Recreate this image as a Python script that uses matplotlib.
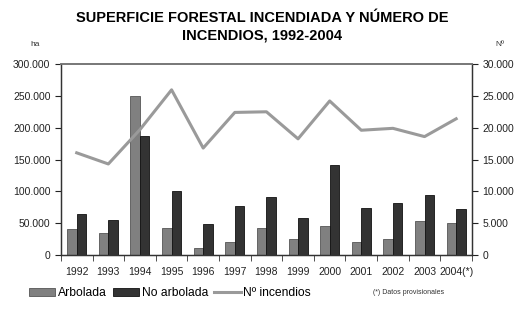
import numpy as np
import matplotlib
matplotlib.use('Agg')
import matplotlib.pyplot as plt
from matplotlib.ticker import FuncFormatter

plt.rcParams['font.family'] = ['Liberation Sans', 'DejaVu Sans']

years = ['1992', '1993', '1994', '1995', '1996', '1997', '1998',
         '1999', '2000', '2001', '2002', '2003', '2004(*)']
arbolada = [40400, 34500, 250500, 42500, 11000, 21000, 43000,
            24600, 46100, 19900, 25200, 54000, 50900]
no_arbolada = [65000, 55600, 187000, 101200, 49300, 77100, 91200,
               58200, 142100, 73400, 81800, 94900, 72400]
incendios = [16050, 14300, 19700, 25950, 16800, 22400, 22500,
             18250, 24200, 19600, 19900, 18600, 21400]

LIGHT = '#808080'
DARK = '#333333'
LINE = '#9a9a9a'


def dot_thousands(value, _):
    if value == 0:
        return '0'
    return f'{value:,.0f}'.replace(',', '.')


fig = plt.figure(figsize=(5.25, 3.14), dpi=100)
ax = fig.add_axes([0.116, 0.188, 0.783, 0.608])
ax2 = ax.twinx()

x = np.arange(len(years))
w = 0.3
b1 = ax.bar(x - w / 2, arbolada, w, color=LIGHT, edgecolor='#555555', linewidth=0.6, label='Arbolada')
b2 = ax.bar(x + w / 2, no_arbolada, w, color=DARK, edgecolor='#111111', linewidth=0.6, label='No arbolada')
ln, = ax2.plot(x, incendios, color=LINE, linewidth=2.2, label='Nº incendios')

ax.set_xlim(-0.5, len(years) - 0.5)
ax.set_ylim(0, 300000)
ax2.set_ylim(0, 30000)
ax.set_yticks(np.arange(0, 300001, 50000))
ax2.set_yticks(np.arange(0, 30001, 5000))
ax.yaxis.set_major_formatter(FuncFormatter(dot_thousands))
ax2.yaxis.set_major_formatter(FuncFormatter(dot_thousands))

# category labels centred, tick marks between categories
ax.set_xticks(x)
ax.set_xticklabels(years)
ax.set_xticks(np.arange(-0.5, len(years), 1), minor=True)
ax.tick_params(axis='x', which='major', length=0, labelsize=7.5, pad=9, colors='#222222')
ax.tick_params(axis='x', which='minor', length=4, direction='out', color='#333333')
ax.tick_params(axis='y', labelsize=7.5, length=4, direction='out', colors='#222222')
ax2.tick_params(axis='y', labelsize=7.5, length=4, direction='out', colors='#222222')

for a in (ax, ax2):
    a.spines['top'].set_color('#777777')
    a.spines['top'].set_linewidth(1.2)
    for s in ('left', 'right', 'bottom'):
        a.spines[s].set_color('#333333')
        a.spines[s].set_linewidth(0.9)

fig.text(0.5, 0.915, 'SUPERFICIE FORESTAL INCENDIADA Y NÚMERO DE\nINCENDIOS, 1992-2004',
         ha='center', va='center', fontsize=10.5, fontweight='bold', linespacing=1.3)
fig.text(0.067, 0.858, 'ha', ha='center', va='center', fontsize=6, color='#333333')
fig.text(0.953, 0.858, 'Nº', ha='center', va='center', fontsize=6, color='#333333')

fig.legend(handles=[b1, b2, ln], loc='center left', bbox_to_anchor=(0.055, 0.067),
           ncol=3, frameon=False, fontsize=8.7, handlelength=2.2, handleheight=0.6,
           handletextpad=0.2, columnspacing=0.5, borderpad=0, borderaxespad=0)
fig.text(0.71, 0.067, '(*) Datos provisionales', ha='left', va='center', fontsize=5, color='#333333')

fig.savefig('out.png', dpi=100)
